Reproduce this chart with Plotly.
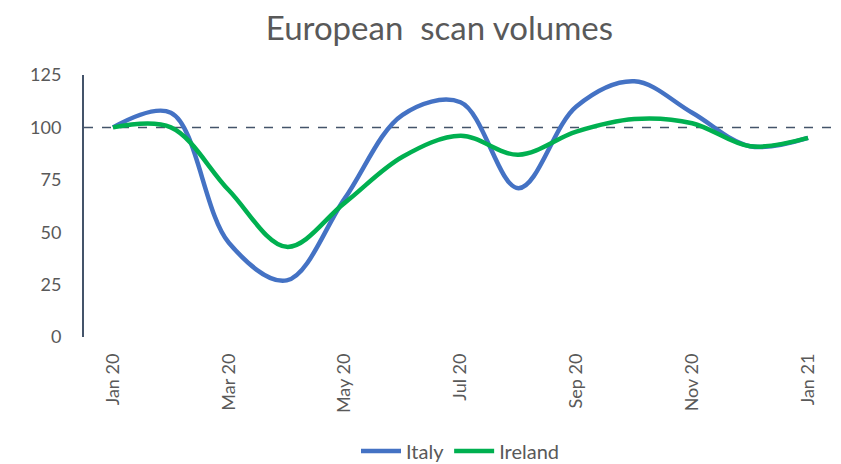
import plotly.graph_objects as go

months = ["Jan 20", "Feb 20", "Mar 20", "Apr 20", "May 20", "Jun 20", "Jul 20",
          "Aug 20", "Sep 20", "Oct 20", "Nov 20", "Dec 20", "Jan 21"]
italy = [100, 107, 45, 27, 66, 106, 112, 71, 110, 122, 107, 91, 95]
ireland = [100, 100, 70, 43, 64, 86, 96, 87, 98, 104, 102, 91, 95]
baseline = 100
tick_labels = ["Jan 20", "Mar 20", "May 20", "Jul 20", "Sep 20", "Nov 20", "Jan 21"]
y_ticks = [0, 25, 50, 75, 100, 125]

xs = list(range(len(months)))
tick_pos = [months.index(t) for t in tick_labels]

fig = go.Figure()
fig.add_trace(go.Scatter(x=xs, y=italy, name="Italy", mode="lines",
                         line=dict(color="#4472C4", width=4.5, shape="spline", smoothing=1.0)))
fig.add_trace(go.Scatter(x=xs, y=ireland, name="Ireland", mode="lines",
                         line=dict(color="#00B050", width=4.5, shape="spline", smoothing=1.0)))

fig.add_shape(type="line", xref="paper", x0=0, x1=1, yref="y", y0=baseline, y1=baseline,
              line=dict(color="#44546A", width=1.5, dash="dash"), layer="below")

font_family = "Lato, 'Open Sans', sans-serif"
fig.update_layout(
    width=841, height=464,
    margin=dict(l=76, r=12, t=67, b=135, autoexpand=False),
    paper_bgcolor="white", plot_bgcolor="white",
    title=dict(text="European  scan volumes", x=0.513, xanchor="center",
               yref="container", y=0.955, yanchor="middle",
               font=dict(family=font_family, size=33, color="#595959")),
    font=dict(family=font_family, color="#595959", size=18),
    showlegend=True,
    legend=dict(orientation="h", x=0.5, xanchor="center", yref="container", y=0.045,
                yanchor="middle", font=dict(size=20, color="#595959"), itemwidth=40),
    xaxis=dict(range=[-0.5, 12.5], tickmode="array", tickvals=tick_pos, ticktext=tick_labels,
               tickangle=-90, showgrid=False, zeroline=False, showline=False, automargin=False,
               ticks="", ticklabelstandoff=12, tickfont=dict(size=18, color="#595959")),
    yaxis=dict(range=[0, 125], tickmode="array", tickvals=y_ticks, automargin=False,
               showgrid=False, zeroline=False, showline=True, linecolor="#44546A", linewidth=2,
               ticks="", ticklabelstandoff=17, tickfont=dict(size=18, color="#595959")),
)

fig.write_html("out.html")
